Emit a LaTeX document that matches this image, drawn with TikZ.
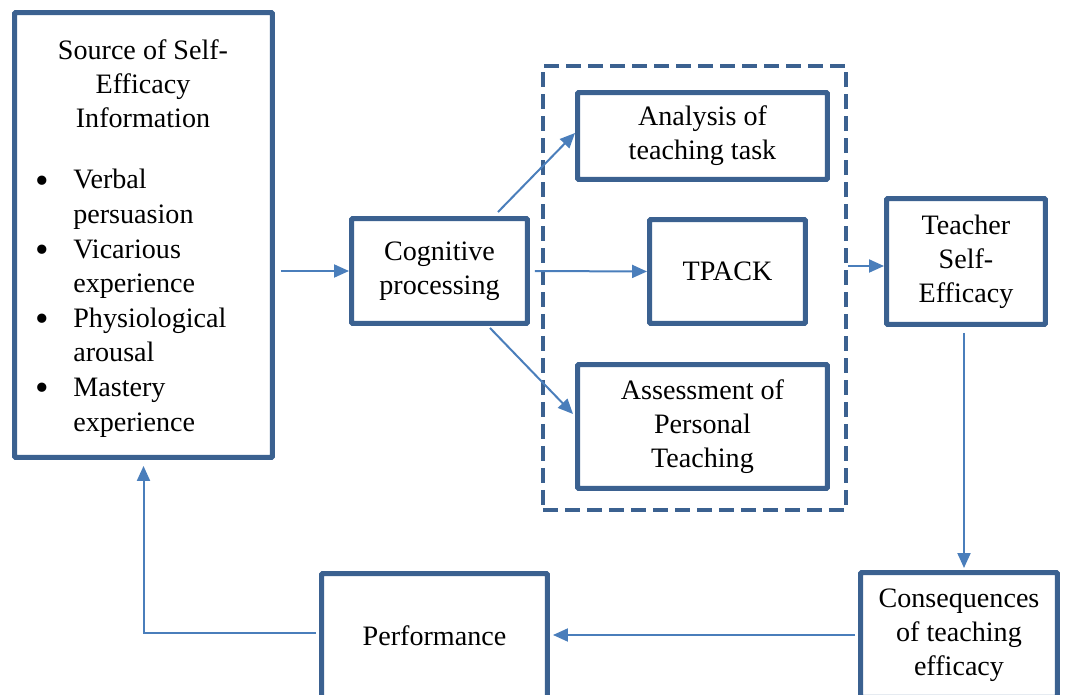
\documentclass[tikz,border=0pt]{standalone}
\usepackage{fontspec}
\setmainfont{Liberation Serif}
\usetikzlibrary{arrows.meta}
\definecolor{boxblue}{HTML}{3B6190}
\definecolor{arrowblue}{HTML}{4A7EBB}
\newcommand*\bigbul{\raisebox{-2.5pt}{\fontsize{22}{19.7}\selectfont\textbullet}}

\begin{document}
\begin{tikzpicture}[x=0.02cm,y=-0.02cm,>={Triangle[length=0.3cm,width=0.26cm]}]
			\tikzstyle{box}=[draw=boxblue,line width=0.1cm,rounded corners=0.6pt,align=center,inner sep=0pt,font=\rmfamily\fontsize{16}{19.3}\selectfont];
			\tikzstyle{grpbox}=[draw=boxblue,line width=0.08cm,dash pattern=on 0.3cm off 0.14cm,inner sep=0pt];
			\tikzstyle{flow}=[->,draw=arrowblue,line width=0.04cm];
			\useasboundingbox(0,0)rectangle(1065,695);
			\clip(0,0)rectangle(1065,695);
			\node[box,minimum width=5.16cm,minimum height=8.9cm](src)at(143.5,235){};
			\node[font=\rmfamily\fontsize{16}{19.3}\selectfont,align=center](srct)at(143,84){Source of Self-\\Efficacy\\Information};
			\node[font=\rmfamily\fontsize{16}{19.7}\selectfont,anchor=west,inner sep=0pt](srcl)at(35,303){%
				\begin{tabular}{@{}p{0.76cm}@{}l@{}}
				\bigbul & Verbal\\ & persuasion\\
				\bigbul & Vicarious\\ & experience\\
				\bigbul & Physiological\\ & arousal\\
				\bigbul & Mastery\\ & experience
				\end{tabular}};
			\node[box,minimum width=3.52cm,minimum height=2.1cm](cog)at(439.5,271){Cognitive\\processing};
			\node[grpbox,minimum width=6.06cm,minimum height=8.88cm](grp)at(694.5,288){};
			\node[box,minimum width=5cm,minimum height=1.74cm](ana)at(702.5,136){Analysis of\\teaching task};
			\node[box,minimum width=3.12cm,minimum height=2.08cm](tpack)at(727.5,271.5){TPACK};
			\node[box,minimum width=5cm,minimum height=2.48cm](ass)at(702.5,426.5){Assessment of\\Personal\\Teaching};
			\node[box,minimum width=3.18cm,minimum height=2.52cm](tse)at(966,261.5){Teacher\\Self-\\Efficacy};
			\node[box,minimum width=3.94cm,minimum height=2.5cm](cons)at(959,635){Consequences\\of teaching\\efficacy};
			\node[box,minimum width=4.52cm,minimum height=2.5cm](perf)at(434.5,636){Performance};
			\draw[flow,shorten <=0.12cm](cog.west-|src.east)--(cog.west);
			\draw[flow]([xshift=1.17cm,yshift=0.08cm]cog.north)--([yshift=0.06cm]ana.west);
			\draw[flow,shorten <=0.1cm](cog.east)--(tpack.west);
			\draw[flow]([xshift=1.01cm,yshift=-0.04cm]cog.south)--([xshift=-0.04cm,yshift=0.25cm]ass.west);
			\draw[flow]([yshift=-0.09cm]tse.west-|grp.east)--([yshift=-0.09cm]tse.west);
			\draw[flow,shorten <=0.12cm,shorten >=0.04cm]([xshift=-0.04cm]tse.south)--([xshift=-0.04cm]tse.south|-cons.north);
			\draw[flow,shorten <=0.06cm,shorten >=0.06cm](cons.west)--(cons.west-|perf.east);
			\draw[flow,shorten <=0.06cm,shorten >=0.12cm]([yshift=0.06cm]perf.west)-|(src.south);
		\end{tikzpicture}
\end{document}
